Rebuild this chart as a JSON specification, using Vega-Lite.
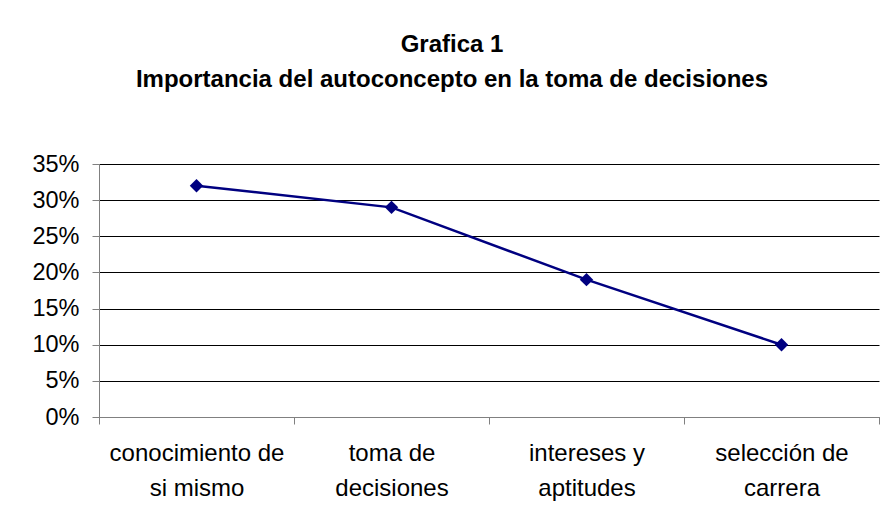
{
  "$schema": "https://vega.github.io/schema/vega-lite/v6.json",
  "autosize": "none",
  "width": 780,
  "height": 253,
  "padding": {"left": 99, "top": 164, "right": 7, "bottom": 101},
  "background": "white",
  "data": {
    "values": [
      {"categoria": "conocimiento de si mismo", "porcentaje": 0.32},
      {"categoria": "toma de decisiones", "porcentaje": 0.29},
      {"categoria": "intereses y aptitudes", "porcentaje": 0.19},
      {"categoria": "selección de carrera", "porcentaje": 0.10}
    ]
  },
  "title": {
    "text": ["Grafica 1", "Importancia del autoconcepto en la toma de decisiones"],
    "font": "Liberation Sans",
    "fontSize": 24,
    "fontWeight": "bold",
    "lineHeight": 35,
    "color": "black",
    "anchor": "middle",
    "dx": -37,
    "offset": 60
  },
  "encoding": {
    "x": {
      "field": "categoria",
      "type": "nominal",
      "sort": null,
      "scale": {"paddingInner": 0, "paddingOuter": 0},
      "axis": {
        "title": null,
        "labelAngle": 0,
        "labelExpr": "{'conocimiento de si mismo': ['conocimiento de', 'si mismo'], 'toma de decisiones': ['toma de', 'decisiones'], 'intereses y aptitudes': ['intereses y', 'aptitudes'], 'selección de carrera': ['selección de', 'carrera']}[datum.value]",
        "labelFont": "Liberation Sans",
        "labelFontSize": 24,
        "labelLineHeight": 35,
        "labelColor": "black",
        "labelPadding": 17,
        "domainColor": "#808080",
        "tickColor": "#808080",
        "tickSize": 7,
        "tickBand": "extent",
        "grid": false
      }
    },
    "y": {
      "field": "porcentaje",
      "type": "quantitative",
      "scale": {"domain": [0, 0.35], "nice": false},
      "axis": {
        "title": null,
        "values": [0, 0.05, 0.1, 0.15, 0.2, 0.25, 0.3, 0.35],
        "format": ".0%",
        "labelFont": "Liberation Sans",
        "labelFontSize": 23.5,
        "labelColor": "black",
        "labelPadding": 13,
        "domainColor": "#808080",
        "tickColor": "#808080",
        "tickSize": 7,
        "grid": true,
        "gridColor": "black",
        "gridWidth": 1,
        "gridOpacity": 1
      }
    }
  },
  "layer": [
    {"mark": {"type": "line", "color": "#000080", "strokeWidth": 2.5}},
    {"mark": {"type": "point", "shape": "diamond", "filled": true, "color": "#000080", "opacity": 1, "size": 180}}
  ],
  "config": {
    "view": {"stroke": null}
  }
}
